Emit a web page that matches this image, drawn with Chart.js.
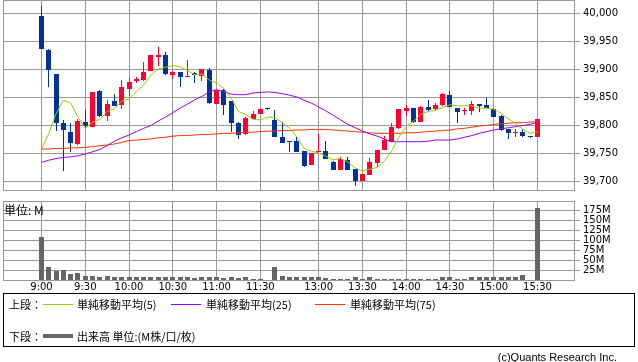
<!DOCTYPE html>
<html><head><meta charset="utf-8">
<script src="https://cdn.jsdelivr.net/npm/chart.js@4.4.1/dist/chart.umd.min.js"></script>
<style>
html,body{margin:0;padding:0;background:#fff;}
body{width:638px;height:362px;position:relative;overflow:hidden;font-family:"Noto Sans CJK JP","Noto Sans",sans-serif;color:#000;}
canvas{position:absolute;left:0;}
#c1{top:0;}
#c2{top:196px;}
.t{position:absolute;font-size:11px;line-height:12px;white-space:nowrap;}
.ln{position:absolute;height:1px;width:30px;}
#box{position:absolute;left:3px;top:293px;width:630px;height:52px;border:1px solid #000;}
</style></head><body>
<canvas id="c1" width="638" height="200"></canvas>
<canvas id="c2" width="638" height="98"></canvas>
<div class="t" style="left:4px;top:203px;font-size:12px;line-height:14px;">単位: M</div>
<div id="box"></div>
<div class="t" style="left:9px;top:298px;">上段：</div>
<div class="ln" style="left:43px;top:304px;background:#99cc00;"></div>
<div class="t" style="left:77px;top:298px;">単純移動平均(5)</div>
<div class="ln" style="left:171px;top:304px;background:#9900ff;"></div>
<div class="t" style="left:206px;top:298px;">単純移動平均(25)</div>
<div class="ln" style="left:315px;top:304px;background:#ff3300;"></div>
<div class="t" style="left:350px;top:298px;">単純移動平均(75)</div>
<div class="t" style="left:9px;top:330px;">下段：</div>
<div class="ln" style="left:43px;top:334px;height:4px;background:#666;"></div>
<div class="t" style="left:77px;top:330px;">出来高 単位:(M株/口/枚)</div>
<div class="t" style="right:21px;top:351px;font-family:'Liberation Sans',sans-serif;">(c)Quants Research Inc.</div>
<script>
const times = ["9:00","9:05","9:10","9:15","9:20","9:25","9:30","9:35","9:40","9:45","9:50","9:55",
"10:00","10:05","10:10","10:15","10:20","10:25","10:30","10:35","10:40","10:45","10:50","10:55",
"11:00","11:05","11:10","11:15","11:20","11:25","11:30","12:25",
"12:30","12:35","12:40","12:45","12:50","12:55",
"13:00","13:05","13:10","13:15","13:20","13:25","13:30","13:35","13:40","13:45","13:50","13:55",
"14:00","14:05","14:10","14:15","14:20","14:25","14:30","14:35","14:40","14:45","14:50","14:55",
"15:00","15:05","15:10","15:15","15:20","15:25","15:30"];

const opens = [39995,39935,39892,39804,39788,39767,39806,39798,39862,39817,39843,39837,
39865,39880,39881,39898,39923,39925,39890,39895,39886,39893,39889,39899,
39839,39863,39843,39804,39785,39812,39821,39829,
39810,39780,39771,39773,39755,39730,
39752,39755,39735,39721,39738,39723,39701,39712,39733,39756,39771,39795,
39826,39831,39807,39833,39829,39836,39855,39831,39825,39826,39838,39837,
39830,39817,39794,39787,39789,39779,39779];
const highs = [40013,39936,39892,39810,39804,39812,39827,39860,39864,39845,39857,39881,
39884,39887,39914,39926,39940,39931,39898,39895,39917,39895,39901,39902,
39864,39865,39843,39806,39815,39825,39830,39829,
39827,39806,39773,39779,39755,39751,
39785,39773,39737,39744,39743,39723,39713,39742,39757,39782,39804,39830,
39837,39831,39834,39845,39840,39858,39861,39831,39832,39843,39839,39849,
39832,39819,39794,39794,39793,39779,39811];
const lows = [39937,39869,39790,39719,39752,39766,39796,39797,39816,39808,39834,39830,
39852,39876,39880,39897,39906,39890,39883,39868,39886,39876,39880,39838,
39839,39819,39788,39775,39783,39812,39821,39829,
39779,39768,39752,39752,39725,39730,
39752,39740,39721,39721,39720,39692,39701,39712,39725,39756,39771,39793,
39817,39805,39806,39825,39828,39835,39833,39805,39818,39819,39824,39831,
39815,39790,39776,39779,39779,39779,39779];
const closes = [39937,39899,39805,39792,39769,39808,39799,39860,39817,39839,39835,39868,
39877,39883,39895,39925,39926,39892,39896,39886,39889,39890,39900,39840,
39863,39837,39804,39783,39813,39820,39830,39829,
39780,39768,39770,39752,39727,39751,
39755,39740,39721,39740,39720,39701,39713,39735,39757,39774,39798,39830,
39831,39806,39833,39827,39836,39856,39833,39824,39826,39838,39835,39831,
39816,39792,39787,39789,39781,39779,39811];

const sma5 = [39758,39786,39821,39845,39840,39815,39795,39806,39811,39825,39830,39844,
39847,39860,39872,39890,39901,39904,39907,39905,39898,39891,39892,39881,
39876,39866,39849,39825,39820,39811,39810,39815,
39814,39805,39795,39780,39759,39754,
39751,39745,39739,39741,39735,39724,39719,39722,39725,39736,39755,39779,
39798,39808,39820,39825,39827,39832,39837,39835,39835,39835,39831,39831,
39829,39822,39812,39803,39793,39786,39789];
const sma25 = [39734,39738,39741,39743,39744,39746,39749,39753,39757,39764,39772,39778,
39783,39789,39795,39800,39808,39815,39823,39831,39838,39846,39852,39860,
39864,39860,39856,39855,39855,39858,39859,39860,
39859,39857,39854,39851,39845,39840,
39833,39826,39818,39810,39802,39796,39790,39785,39781,39776,39771,39771,
39771,39771,39771,39772,39774,39774,39774,39776,39779,39782,39786,39789,
39792,39794,39796,39798,39800,39802,39806];
const sma75 = [39758,39758,39759,39759,39760,39760,39761,39762,39764,39765,39767,39770,
39773,39774,39775,39776,39778,39779,39781,39782,39782,39783,39784,39784,
39785,39786,39786,39787,39788,39788,39789,39790,
39790,39791,39791,39792,39792,39793,
39793,39793,39792,39791,39790,39789,39788,39787,39786,39786,39786,39786,
39787,39787,39788,39789,39790,39791,39792,39794,39795,39797,39799,39800,
39802,39803,39804,39805,39805,39806,39807];

const volumes = [108,35,24,27,17,20,12,12,10,12,10,10,
10,8,10,10,10,9,8,8,8,6,10,10,
8,6,10,6,8,4,3,null,
33,12,8,8,10,8,
10,6,5,5,5,8,5,8,5,5,5,5,
5,5,5,5,5,8,8,5,5,8,8,8,
8,10,10,10,15,null,182];

const tickLabels = ["9:00","9:30","10:00","10:30","11:00","11:30","13:00","13:30","14:00","14:30","15:00","15:30"];
const priceTicks = [39700,39750,39800,39850,39900,39950,40000];
const volumeTicks = [25,50,75,100,125,150,175];

const tickIdx = tickLabels.map(t => times.indexOf(t));
const RED = '#ff0033', BLUE = '#003399', GRID = '#999999';
const candleColors = closes.map((c, i) => c > opens[i] ? RED : BLUE);

const frame = {
  id: 'frame',
  afterDraw(chart) {
    const {ctx, chartArea: a} = chart;
    ctx.save();
    ctx.strokeStyle = GRID; ctx.lineWidth = 1;
    ctx.strokeRect(a.left + 0.5, a.top + 0.5, a.right - a.left - 1, a.bottom - a.top - 1);
    ctx.restore();
  }
};
const snap = {
  id: 'snap',
  afterDatasetsUpdate(chart) {
    chart.data.datasets.forEach((ds, di) => {
      const meta = chart.getDatasetMeta(di);
      if (meta.type !== 'bar') return;
      meta.data.forEach(el => {
        if (!isFinite(el.x) || !isFinite(el.y) || !isFinite(el.base)) return;
        el.x = Math.round(el.x - 0.5) + 0.5;
        let y = Math.round(el.y), b = Math.round(el.base);
        if (Math.abs(y - b) < 1) b = y + 1;
        el.y = y; el.base = b;
      });
    });
  }
};

const xMin = -5.278, xMax = 73.14;
const tickFont = {family: 'DejaVu Sans', size: 10};

function xScale(showLabels) {
  return {
    type: 'linear', min: xMin, max: xMax, offset: false,
    afterBuildTicks: s => { s.ticks = tickIdx.map(v => ({value: v})); },
    grid: {color: GRID, lineWidth: 1, drawTicks: false, offset: false},
    border: {display: false},
    ticks: {
      display: showLabels, autoSkip: false, maxRotation: 0, minRotation: 0, padding: 0,
      color: '#000', font: tickFont,
      callback: v => { const k = tickIdx.indexOf(v); return k >= 0 ? tickLabels[k] : ''; }
    },
    afterFit: s => { s.paddingLeft = 0; s.paddingRight = 0; s.height = showLabels ? 13 : 0; }
  };
}

const common = {
  responsive: false, animation: false, events: [],
  plugins: {legend: {display: false}, tooltip: {enabled: false}},
};

new Chart(document.getElementById('c1'), {
  type: 'bar',
  data: {
    datasets: [
      {type: 'line', data: sma5.map((v, i) => ({x: i, y: v})), borderColor: '#99cc00', borderWidth: 1, pointRadius: 0, tension: 0, fill: false},
      {type: 'line', data: sma25.map((v, i) => ({x: i, y: v})), borderColor: '#9900ff', borderWidth: 1, pointRadius: 0, tension: 0, fill: false},
      {type: 'line', data: sma75.map((v, i) => ({x: i, y: v})), borderColor: '#ff3300', borderWidth: 1, pointRadius: 0, tension: 0, fill: false},
      {type: 'bar', data: opens.map((o, i) => ({x: i, y: [o, closes[i]]})), backgroundColor: candleColors,
        maxBarThickness: 5, minBarLength: 1, grouped: false, inflateAmount: 0, borderWidth: 0},
      {type: 'bar', data: lows.map((l, i) => ({x: i, y: [l, highs[i]]})), backgroundColor: candleColors,
        maxBarThickness: 1, grouped: false, inflateAmount: 0, borderWidth: 0}
    ]
  },
  options: Object.assign({}, common, {
    layout: {padding: {left: 3, right: 0, top: 0, bottom: 9}},
    scales: {
      x: xScale(false),
      y: {
        type: 'linear', position: 'right', min: 39683, max: 40024.1,
        afterBuildTicks: s => { s.ticks = priceTicks.map(v => ({value: v})); },
        grid: {color: GRID, lineWidth: 1, drawTicks: true, tickLength: 5, tickColor: GRID},
        border: {display: false},
        ticks: {autoSkip: false, padding: 3, color: '#000', font: tickFont, callback: v => v.toLocaleString('en-US')},
        afterFit: s => { s.width = 63; s.paddingTop = 0; s.paddingBottom = 0; }
      }
    }
  }),
  plugins: [snap, frame]
});

new Chart(document.getElementById('c2'), {
  type: 'bar',
  data: {
    datasets: [
      {data: volumes.map((v, i) => ({x: i, y: v})), backgroundColor: '#666666',
        maxBarThickness: 5, grouped: false, inflateAmount: 0, borderWidth: 0}
    ]
  },
  options: Object.assign({}, common, {
    layout: {padding: {left: 3, right: 0, top: 5, bottom: 0}},
    scales: {
      x: xScale(true),
      y: {
        type: 'linear', position: 'right', min: -1.25, max: 198.75,
        afterBuildTicks: s => { s.ticks = volumeTicks.map(v => ({value: v})); },
        grid: {color: GRID, lineWidth: 1, drawTicks: true, tickLength: 5, tickColor: GRID},
        border: {display: false},
        ticks: {autoSkip: false, padding: 3, color: '#000', font: {family: 'DejaVu Sans', size: 10, lineHeight: 1}, callback: v => v + 'M'},
        afterFit: s => { s.width = 63; s.paddingTop = 0; s.paddingBottom = 0; }
      }
    }
  }),
  plugins: [snap, frame]
});
</script>
</body></html>
